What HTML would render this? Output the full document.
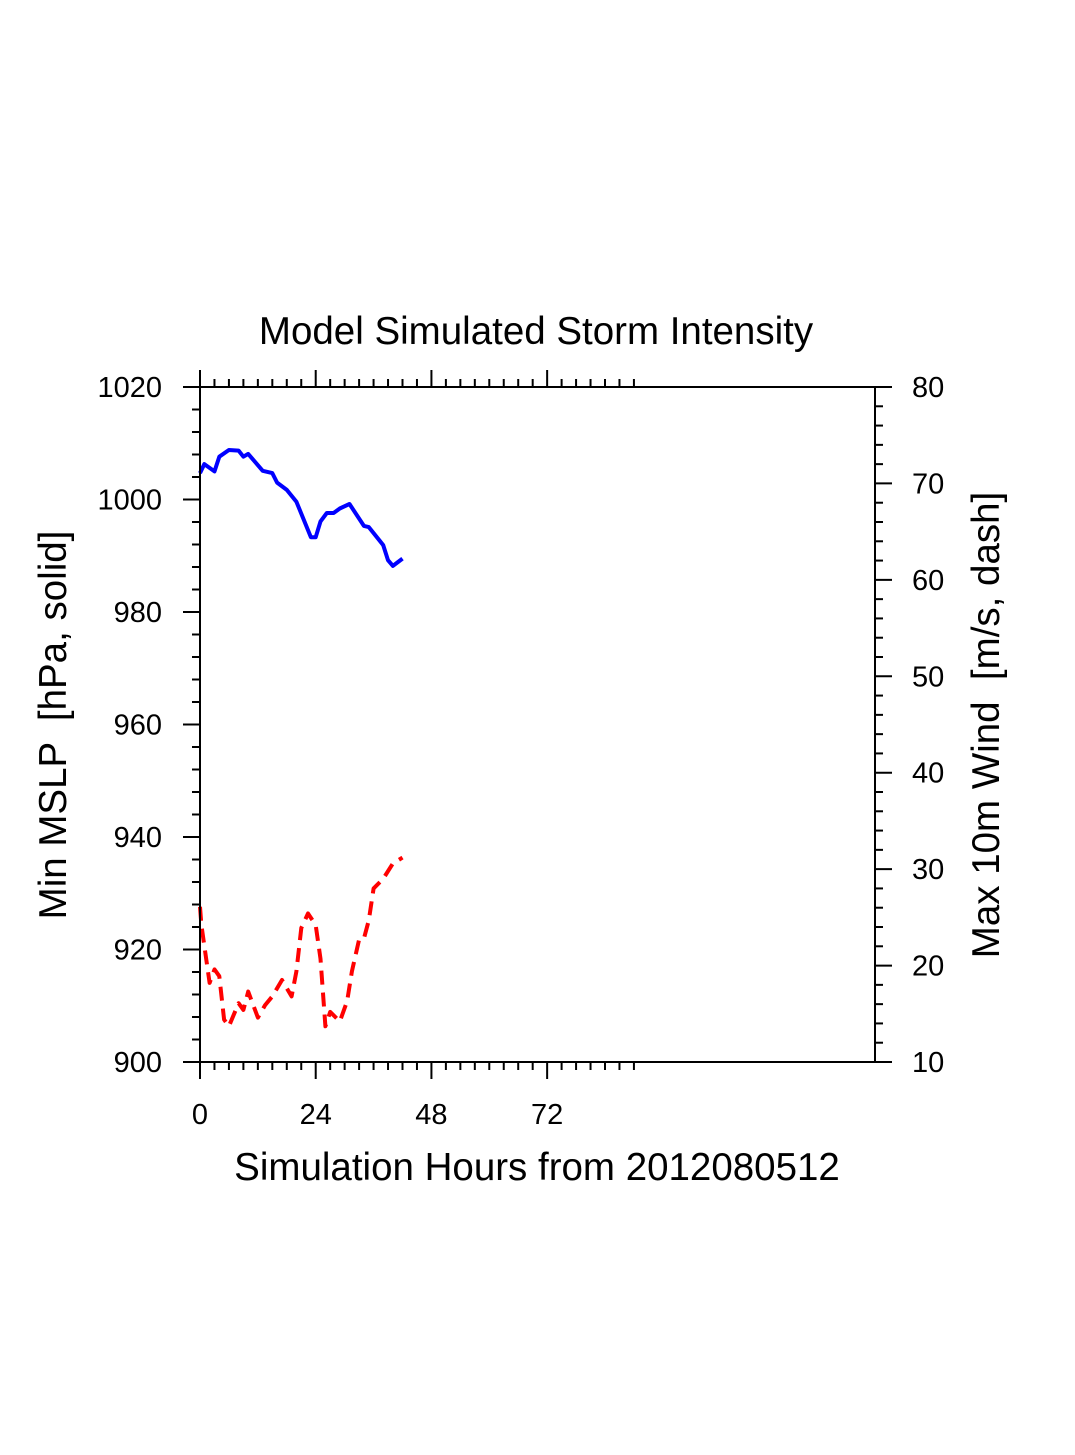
<!DOCTYPE html>
<html><head><meta charset="utf-8"><style>
html,body{margin:0;padding:0;background:#fff;}
svg text{font-family:"Liberation Sans",Arial,sans-serif;fill:#000;}
</style></head><body>
<svg id="chart" width="1075" height="1450" xmlns="http://www.w3.org/2000/svg">
<rect width="1075" height="1450" fill="#fff"/>
<text x="536" y="344" font-size="38.5" text-anchor="middle">Model Simulated Storm Intensity</text>
<g id="axes"></g>
<g id="series"></g>
<rect x="200" y="387" width="675" height="675" fill="none" stroke="#000" stroke-width="2"/>
<text x="537" y="1180" font-size="38.5" text-anchor="middle">Simulation Hours from 2012080512</text>
<text transform="translate(66,725) rotate(-90)" font-size="38.5" text-anchor="middle" xml:space="preserve">Min MSLP  [hPa, solid]</text>
<text transform="translate(999,725) rotate(-90)" font-size="38.5" text-anchor="middle" xml:space="preserve">Max 10m Wind  [m/s, dash]</text>
</svg>
<script>
const xTicks=[0,24,48,72];
const leftTicks=[900,920,940,960,980,1000,1020];
const rightTicks=[10,20,30,40,50,60,70,80];
const mslpHours=[0,0.9,3,4,6,8,9,10,13,15,16,18,20,23,24,25,26.3,27.7,29,31,34,35,38,39,40,42];
const mslpValues=[1004.7,1006.3,1005.0,1007.6,1008.8,1008.7,1007.6,1008.1,1005.1,1004.7,1003.0,1001.7,999.6,993.3,993.3,996.1,997.6,997.6,998.4,999.2,995.3,995.1,991.9,989.2,988.2,989.5];
const windHours=[0,0.3,2,3,4,5,6,8,9,10,12,13.5,15,17,19,20,21,22.4,24,25,26,27,29,30.5,31.5,33,34,35,36,38,40,42];
const windValues=[26.1,24.2,18.2,19.6,18.9,14.4,13.7,16.1,15.4,17.3,14.6,15.9,16.8,18.5,16.8,19.4,23.9,25.4,24.2,20.7,13.7,15.2,14.2,16.3,19.4,22.7,22.8,24.7,28.0,29.0,30.6,31.2];

const X0=200,X1=875,Y0=387,Y1=1062;
const xs=h=>X0+(h-0)/(140-0)*(X1-X0);
const yl=p=>Y1-(p-900)/(1020-900)*(Y1-Y0);
const yr=w=>Y1-(w-10)/(80-10)*(Y1-Y0);
const NS="http://www.w3.org/2000/svg";
const axes=document.getElementById('axes');
const series=document.getElementById('series');
function ln(x1,y1,x2,y2,name){const l=document.createElementNS(NS,'line');
l.setAttribute('x1',x1);l.setAttribute('y1',y1);l.setAttribute('x2',x2);l.setAttribute('y2',y2);
l.setAttribute('stroke','#000');l.setAttribute('stroke-width','2');


axes.appendChild(l);}
function tx(x,y,s,anchor,name){const t=document.createElementNS(NS,'text');
t.setAttribute('x',x);t.setAttribute('y',y);t.setAttribute('font-size','29');t.setAttribute('text-anchor',anchor);t.textContent=s;


axes.appendChild(t);}
for(let h=0;h<=90;h+=3){const x=xs(h);const major=h%24===0;const len=major?17:8;
ln(x,Y0,x,Y0-len,'x-top-tick');ln(x,Y1,x,Y1+len,'x-bottom-tick');}
xTicks.forEach(h=>tx(xs(h),1124,String(h),'middle','x-tick-label'));
for(let p=900;p<=1020;p+=4){const y=yl(p);const major=p%20===0;ln(X0,y,X0-(major?17:8),y,'left-y-tick');}
leftTicks.forEach(p=>tx(162,yl(p)+10,String(p),'end','left-y-tick-label'));
for(let w=10;w<=80;w+=2){const y=yr(w);const major=w%10===0;ln(X1,y,X1+(major?17:8),y,'right-y-tick');}
rightTicks.forEach(w=>tx(912,yr(w)+10,String(w),'start','right-y-tick-label'));
function path(hs,vs,yf,color,dash,name){const p=document.createElementNS(NS,'path');
p.setAttribute('d',hs.map((h,i)=>(i?'L':'M')+xs(h).toFixed(1)+','+yf(vs[i]).toFixed(1)).join(''));
p.setAttribute('fill','none');p.setAttribute('stroke',color);p.setAttribute('stroke-width','4');p.setAttribute('stroke-linejoin','round');
if(dash)p.setAttribute('stroke-dasharray',dash);


series.appendChild(p);}
path(mslpHours,mslpValues,yl,'#0000ff',null,'mslp-line');
path(windHours,windValues,yr,'#ff0000','14 8','wind-line');
</script>
</body></html>
